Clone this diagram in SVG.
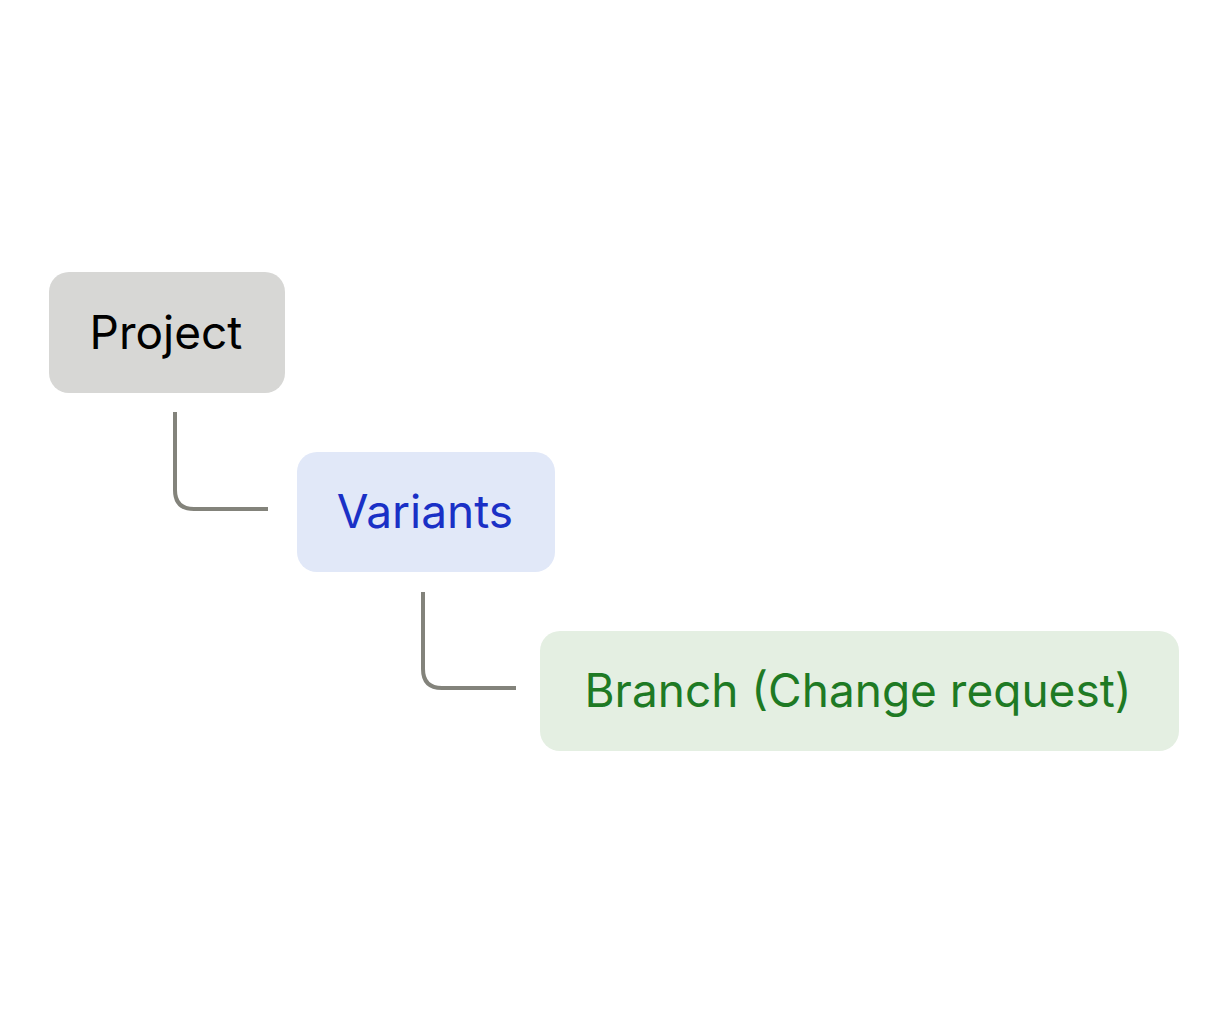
<svg xmlns="http://www.w3.org/2000/svg" width="1228" height="1024" viewBox="0 0 1228 1024">
<style>
text{font-family:Inter,"Noto Sans",sans-serif;font-size:46px;text-anchor:middle}
.c{fill:none;stroke:#83837b;stroke-width:4}
</style>
<rect width="1228" height="1024" fill="#fff"/>
<g id="connectors">
<path class="c" d="M175 412 V490 Q175 509 194 509 H268"/>
<path class="c" d="M423 592 V669 Q423 688 442 688 H516"/>
</g>
<g id="project"><rect x="49" y="272" width="236" height="121" rx="20" fill="#d7d7d5"/><text x="166" y="349" fill="#000">Project</text></g>
<g id="variants"><rect x="297" y="452" width="258" height="120" rx="20" fill="#e1e8f8"/><text x="425" y="528" fill="#1a30c6">Variants</text></g>
<g id="branch"><rect x="540" y="631" width="639" height="120" rx="20" fill="#e4efe2"/><text x="858" y="707" fill="#1e7a24">Branch (Change request)</text></g>
</svg>
